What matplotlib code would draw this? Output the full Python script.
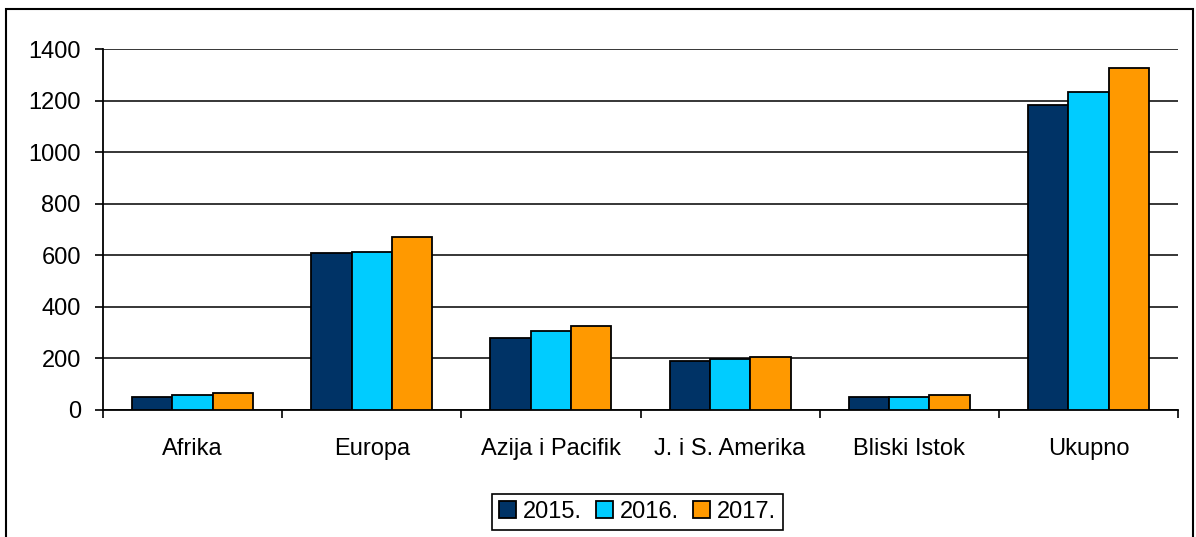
import matplotlib
matplotlib.use("Agg")
import matplotlib.pyplot as plt
from matplotlib.patches import Rectangle
import numpy as np

plt.rcParams['font.family'] = ['Liberation Sans', 'DejaVu Sans']

categories = ["Afrika", "Europa", "Azija i Pacifik", "J. i S. Amerika", "Bliski Istok", "Ukupno"]
series_names = ["2015.", "2016.", "2017."]
v2015 = [52, 607, 278, 191, 52, 1183]
v2016 = [58, 612, 307, 198, 52, 1234]
v2017 = [65, 672, 324, 207, 58, 1325]
colors = ["#003366", "#00CCFF", "#FF9900"]
yticks = [0, 200, 400, 600, 800, 1000, 1200, 1400]

fig = plt.figure(figsize=(11.96, 5.37), dpi=100)
ax = fig.add_axes([103/1196, 1-410/537, (1178-103)/1196, (410-49)/537])

x = np.arange(len(categories))
w = 0.225
for i, (vals, name, c) in enumerate(zip([v2015, v2016, v2017], series_names, colors)):
    ax.bar(x + (i-1)*w, vals, w, color=c, edgecolor="black", linewidth=1.3, label=name, zorder=3)

ax.set_xlim(-0.5, len(categories)-0.5)
ax.set_ylim(0, 1400)
ax.set_yticks(yticks)
ax.set_yticklabels([str(t) for t in yticks], fontsize=17)
ax.yaxis.grid(True, color="black", linewidth=1.1, zorder=0)
ax.set_axisbelow(True)

ax.set_xticks(np.arange(len(categories)+1) - 0.5)
ax.set_xticklabels([])
ax.set_xticks(x, minor=True)
ax.set_xticklabels(categories, minor=True, fontsize=17)
ax.tick_params(axis='x', which='minor', length=0, pad=20)
ax.tick_params(axis='x', which='major', length=6, width=1.2, direction='out')
ax.tick_params(axis='y', length=6, width=1.2, direction='out', pad=10)

for s in ['top', 'right']:
    ax.spines[s].set_visible(False)
ax.spines['left'].set_linewidth(1.3)
ax.spines['bottom'].set_linewidth(1.3)

leg = ax.legend(loc='center', bbox_to_anchor=(637.5/1196, 1-512/537), bbox_transform=fig.transFigure,
                ncol=3, fontsize=17, frameon=True, fancybox=False, edgecolor="black", framealpha=1,
                handlelength=0.7, handleheight=0.7, handletextpad=0.3, columnspacing=0.6,
                borderpad=0.3, borderaxespad=0)
leg.get_frame().set_linewidth(1.2)

border = Rectangle((6/1196, -0.05), (1193-6)/1196, 1-9/537+0.05, transform=fig.transFigure,
                   fill=False, edgecolor="black", linewidth=1.5, clip_on=False)
fig.patches.append(border)

fig.savefig("out.png", dpi=100)
